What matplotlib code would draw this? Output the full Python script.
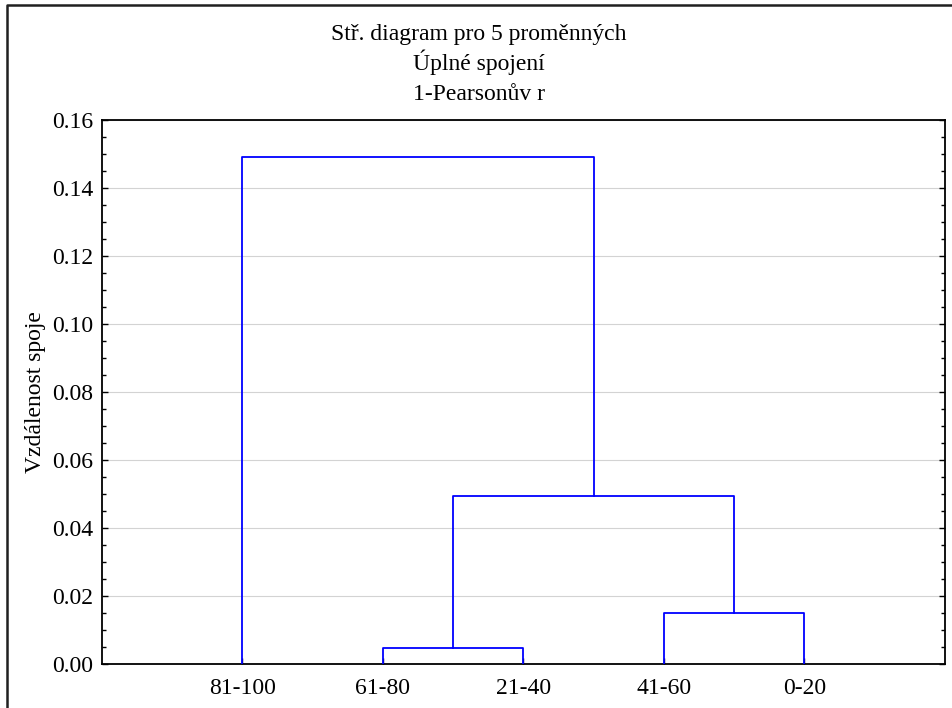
import numpy as np
import matplotlib.pyplot as plt
from matplotlib.lines import Line2D
from matplotlib.ticker import MultipleLocator

plt.rcParams['font.family'] = ['Liberation Serif', 'DejaVu Serif']

# Data
labels = ['81-100', '61-80', '21-40', '41-60', '0-20']
# merges like scipy linkage: (left node, right node, height); nodes 0..4 are leaves
merges = [(1, 2, 0.0048), (3, 4, 0.0151), (5, 6, 0.0495), (0, 7, 0.149)]
title_lines = ['Stř. diagram pro 5 proměnných', 'Úplné spojení', '1-Pearsonův r']

fig = plt.figure(figsize=(9.52, 7.08), dpi=100)
ax = fig.add_axes([101.5 / 952, 1 - 664 / 708, (945 - 101.5) / 952, (664 - 120) / 708])

# node x positions and heights
pos = {i: i + 1.0 for i in range(len(labels))}
hgt = {i: 0.0 for i in range(len(labels))}
for k, (a, b, h) in enumerate(merges):
    node = len(labels) + k
    ax.plot([pos[a], pos[a], pos[b], pos[b]], [hgt[a], h, h, hgt[b]],
            color='#0000ff', lw=1.3, zorder=3)
    pos[node] = (pos[a] + pos[b]) / 2
    hgt[node] = h

ax.set_xlim(0, 6)
ax.set_ylim(0, 0.16)
ax.set_xticks(np.arange(1, len(labels) + 1))
ax.set_xticklabels(labels)
ax.yaxis.set_major_locator(MultipleLocator(0.02))
ax.yaxis.set_minor_locator(MultipleLocator(0.005))
ax.set_yticklabels(['%.2f' % v for v in ax.get_yticks()])
ax.tick_params(axis='both', which='both', direction='in', labelsize=17, pad=6,
               right=True, width=1, colors='black')
ax.tick_params(axis='x', pad=10)
ax.tick_params(which='major', length=4)
ax.tick_params(which='minor', length=3)
ax.tick_params(axis='x', which='minor', bottom=False, top=False)
ax.grid(True, axis='y', color='#d3d3d3', lw=0.8, zorder=0)
for s in ax.spines.values():
    s.set_linewidth(1.3)
ax.set_ylabel('Vzdálenost spoje', fontsize=17, labelpad=4)

for i, t in enumerate(title_lines):
    fig.text(0.503, 1 - (40 + 30 * i) / 708, t, ha='center', va='baseline', fontsize=17)

# outer frame (top and left edges visible)
fig.add_artist(Line2D([7 / 952, 7 / 952, 1], [0, 1 - 5 / 708, 1 - 5 / 708],
                      transform=fig.transFigure, color='#202020', lw=1.8))

fig.savefig('out.png', dpi=100)
